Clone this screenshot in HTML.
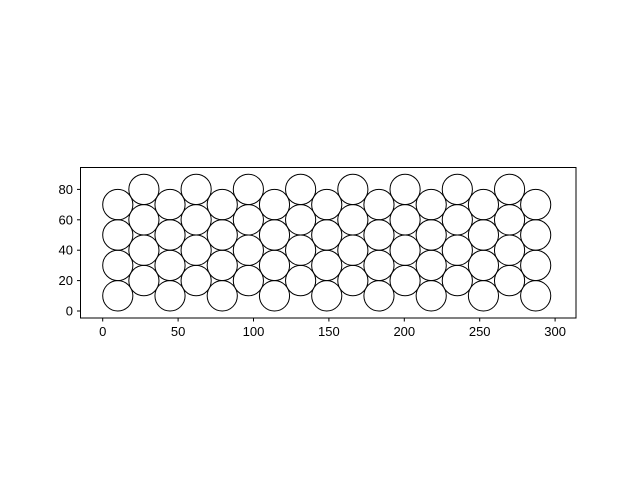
<!DOCTYPE html>
<html><head><meta charset="utf-8"><style>body{margin:0;background:#fff}svg{display:block;font-family:"Liberation Sans","DejaVu Sans",sans-serif}</style></head>
<body>
<svg width="640" height="480" viewBox="0 0 640 480">
<rect x="0" y="0" width="640" height="480" fill="#fff"/>
<g id="circles"></g>
<rect x="80.5" y="167.5" width="495.5" height="150.5" fill="none" stroke="#000" stroke-width="1"/>
<g id="ticks"></g>
</svg>
<script>
const columnsX = [10,27.32,44.64,61.96,79.28,96.6,113.92,131.24,148.56,165.88,183.2,200.52,217.84,235.16,252.48,269.8,287.12];
const evenY = [10,30,50,70];
const oddY = [20,40,60,80];
const radius = 10;
const xTicks = [0,50,100,150,200,250,300];
const yTicks = [0,20,40,60,80];
const NS='http://www.w3.org/2000/svg';
const sx=v=>102.7+v*1.508;
const sy=v=>311-v*1.52;
const cg=document.getElementById('circles');
columnsX.forEach((x,i)=>{
  (i%2===0?evenY:oddY).forEach(y=>{
    const c=document.createElementNS(NS,'ellipse');
    c.setAttribute('cx',sx(x));c.setAttribute('cy',sy(y));
    c.setAttribute('rx',radius*1.508);c.setAttribute('ry',radius*1.52);
    c.setAttribute('fill','none');c.setAttribute('stroke','#000');c.setAttribute('stroke-width','1');
    
    
    cg.appendChild(c);
  });
});
const tg=document.getElementById('ticks');
xTicks.forEach(t=>{
  const l=document.createElementNS(NS,'line');
  l.setAttribute('x1',sx(t));l.setAttribute('x2',sx(t));l.setAttribute('y1',318);l.setAttribute('y2',321.5);l.setAttribute('stroke','#000');
  
  
  tg.appendChild(l);
  const tx=document.createElementNS(NS,'text');
  tx.setAttribute('x',sx(t));tx.setAttribute('y',336);tx.setAttribute('text-anchor','middle');tx.setAttribute('font-size','13');
  tx.textContent=t;
  
  
  tg.appendChild(tx);
});
yTicks.forEach(t=>{
  const l=document.createElementNS(NS,'line');
  l.setAttribute('x1',77);l.setAttribute('x2',80.5);l.setAttribute('y1',sy(t));l.setAttribute('y2',sy(t));l.setAttribute('stroke','#000');
  
  
  tg.appendChild(l);
  const tx=document.createElementNS(NS,'text');
  tx.setAttribute('x',73);tx.setAttribute('y',sy(t)+4.5);tx.setAttribute('text-anchor','end');tx.setAttribute('font-size','13');
  tx.textContent=t;
  
  
  tg.appendChild(tx);
});
</script>
</body></html>
